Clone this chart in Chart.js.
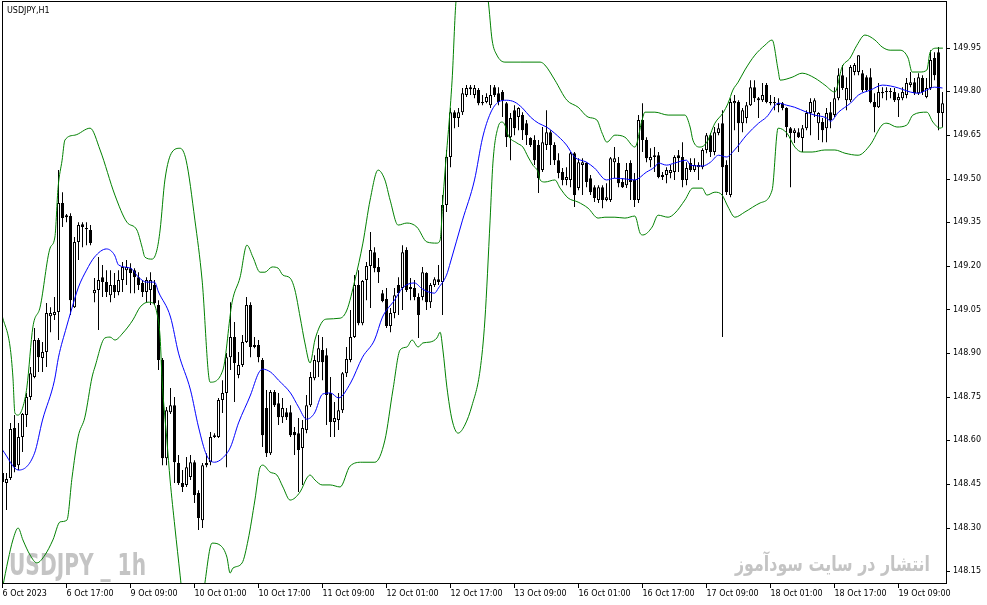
<!DOCTYPE html>
<html><head><meta charset="utf-8">
<script src="https://cdn.jsdelivr.net/npm/chart.js@4/dist/chart.umd.min.js"></script>
<style>html,body{margin:0;padding:0;background:#fff;overflow:hidden}canvas{display:block}</style>
</head><body>
<canvas id="c" width="987" height="605"></canvas>
<script>
const symbolTitle = 'USDJPY,H1';
const watermarkLeft = 'USDJPY _ 1h';
const watermarkRight = 'انتشار در سایت سودآموز';
const timeLabels = ['6 Oct 2023','6 Oct 17:00','9 Oct 09:00','10 Oct 01:00','10 Oct 17:00','11 Oct 09:00','12 Oct 01:00','12 Oct 17:00','13 Oct 09:00','16 Oct 01:00','16 Oct 17:00','17 Oct 09:00','18 Oct 01:00','18 Oct 17:00','19 Oct 09:00'];
const priceTicks = [148.15,148.30,148.45,148.60,148.75,148.90,149.05,149.20,149.35,149.50,149.65,149.80,149.95];

const openP = [148.488,148.454,148.471,148.643,148.515,148.612,148.687,148.749,148.818,148.945,148.883,148.904,149.027,149.031,149.041,149.416,149.374,149.371,149.058,149.282,
149.343,149.330,149.323,149.106,149.117,149.161,149.144,149.099,149.134,149.110,149.151,149.185,149.192,149.185,149.161,149.141,149.110,149.117,149.134,149.065,
148.876,148.539,148.697,148.721,148.522,148.454,148.447,148.474,148.525,148.419,148.326,148.522,148.525,148.612,148.612,148.739,148.763,148.886,148.955,148.825,
148.859,148.938,149.065,148.928,148.928,148.876,148.711,148.556,148.766,148.728,148.680,148.697,148.697,148.629,148.625,148.574,148.636,148.721,148.814,148.869,
148.911,148.893,148.763,148.663,148.670,148.704,148.831,148.876,148.955,149.134,149.003,149.151,149.199,149.247,149.196,149.106,149.086,148.993,149.038,149.134,
149.124,149.254,149.127,149.124,149.093,149.093,149.175,149.075,149.134,149.154,149.144,149.409,149.574,149.728,149.708,149.728,149.787,149.814,149.787,149.804,
149.763,149.763,149.752,149.814,149.793,149.797,149.759,149.642,149.735,149.711,149.718,149.690,149.639,149.632,149.615,149.529,149.615,149.659,149.615,149.563,
149.522,149.495,149.495,149.587,149.467,149.546,149.553,149.501,149.470,149.426,149.470,149.426,149.426,149.556,149.553,149.488,149.477,149.553,149.495,149.426,
149.701,149.632,149.563,149.574,149.580,149.512,149.512,149.519,149.522,149.580,149.574,149.495,149.553,149.529,149.539,149.539,149.598,149.649,149.591,149.656,
149.690,149.546,149.443,149.759,149.763,149.690,149.708,149.752,149.814,149.776,149.769,149.821,149.759,149.759,149.759,149.759,149.742,149.673,149.656,149.659,
149.639,149.673,149.725,149.728,149.690,149.694,149.673,149.728,149.718,149.776,149.855,149.769,149.769,149.866,149.866,149.862,149.848,149.848,149.763,149.745,
149.793,149.797,149.797,149.797,149.769,149.776,149.787,149.821,149.831,149.793,149.845,149.780,149.811,149.914,149.934,149.725];

const highP = [148.491,148.488,148.660,148.687,148.660,148.694,148.763,148.852,148.986,148.952,148.938,149.072,149.058,149.093,149.529,149.453,149.378,149.381,149.299,149.350,
149.350,149.350,149.340,149.158,149.230,149.203,149.185,149.185,149.175,149.185,149.213,149.220,149.209,149.192,149.178,149.151,149.161,149.178,149.151,149.082,
148.883,148.715,148.780,148.749,148.550,148.498,148.543,148.550,148.532,148.429,148.522,148.556,148.629,148.625,148.746,148.807,148.900,149.075,149.007,148.904,
148.962,149.093,149.075,148.955,148.945,148.883,148.773,148.773,148.773,148.763,148.746,148.711,148.721,148.646,148.677,148.670,148.756,148.835,148.893,148.962,
148.955,148.917,148.818,148.732,148.763,148.835,148.921,149.048,149.168,149.185,149.151,149.213,149.316,149.264,149.227,149.117,149.124,149.055,149.124,149.161,
149.271,149.264,149.158,149.151,149.106,149.196,149.178,149.141,149.161,149.203,149.443,149.598,149.742,149.735,149.742,149.811,149.821,149.821,149.821,149.811,
149.787,149.793,149.821,149.821,149.814,149.804,149.763,149.725,149.752,149.745,149.728,149.701,149.642,149.649,149.632,149.677,149.735,149.666,149.625,149.587,
149.536,149.539,149.591,149.591,149.570,149.570,149.556,149.512,149.477,149.477,149.477,149.484,149.574,149.608,149.574,149.501,149.553,149.563,149.519,149.718,
149.759,149.642,149.604,149.608,149.591,149.522,149.539,149.546,149.580,149.598,149.625,149.556,149.570,149.570,149.556,149.604,149.656,149.656,149.677,149.690,
149.735,149.563,149.776,149.787,149.769,149.742,149.763,149.838,149.838,149.780,149.828,149.828,149.787,149.780,149.776,149.763,149.745,149.677,149.673,149.673,
149.684,149.735,149.776,149.776,149.728,149.708,149.742,149.763,149.814,149.879,149.890,149.848,149.890,149.897,149.924,149.873,149.855,149.879,149.793,149.828,
149.814,149.814,149.811,149.811,149.793,149.814,149.845,149.866,149.845,149.862,149.855,149.845,149.941,149.934,149.952,149.797];

const lowP = [148.429,148.361,148.464,148.491,148.498,148.560,148.646,148.739,148.814,148.835,148.835,148.852,148.972,149.014,148.945,149.333,149.350,149.031,149.055,149.220,
149.264,149.271,149.271,149.075,148.979,149.093,149.093,149.075,149.089,149.099,149.110,149.134,149.106,149.106,149.117,149.093,149.075,149.065,149.065,148.842,
148.515,148.515,148.691,148.454,148.447,148.423,148.440,148.464,148.385,148.292,148.299,148.508,148.515,148.608,148.608,148.694,148.508,148.842,148.732,148.814,
148.852,148.935,148.886,148.917,148.869,148.577,148.543,148.550,148.715,148.653,148.660,148.670,148.612,148.550,148.423,148.447,148.625,148.715,148.807,148.818,
148.807,148.653,148.612,148.612,148.636,148.694,148.818,148.869,148.952,148.996,148.996,149.082,149.055,149.178,149.141,149.075,148.986,148.972,149.020,149.031,
149.048,149.110,149.082,149.082,148.952,149.082,149.048,149.055,149.127,149.134,149.031,149.385,149.539,149.673,149.677,149.718,149.780,149.787,149.776,149.752,
149.752,149.759,149.742,149.780,149.752,149.711,149.608,149.563,149.649,149.666,149.632,149.615,149.608,149.546,149.450,149.522,149.598,149.546,149.546,149.501,
149.477,149.477,149.470,149.402,149.460,149.443,149.470,149.443,149.419,149.416,149.398,149.422,149.419,149.501,149.470,149.467,149.467,149.426,149.402,149.416,
149.591,149.556,149.539,149.522,149.501,149.495,149.484,149.501,149.495,149.522,149.470,149.477,149.522,149.522,149.495,149.532,149.587,149.574,149.580,149.649,
148.955,149.443,149.436,149.666,149.591,149.659,149.690,149.749,149.763,149.708,149.763,149.759,149.752,149.735,149.728,149.735,149.642,149.470,149.622,149.639,
149.591,149.666,149.649,149.711,149.632,149.625,149.625,149.673,149.711,149.769,149.804,149.735,149.763,149.855,149.855,149.797,149.797,149.759,149.659,149.742,
149.776,149.769,149.776,149.763,149.711,149.769,149.776,149.814,149.787,149.787,149.787,149.776,149.804,149.838,149.666,149.677];

const closeP = [148.457,148.467,148.639,148.508,148.612,148.691,148.749,148.831,148.945,148.886,148.904,149.038,149.038,149.041,149.416,149.364,149.367,149.082,149.282,149.340,
149.333,149.326,149.278,149.117,149.151,149.144,149.110,149.134,149.110,149.151,149.196,149.196,149.175,149.161,149.134,149.110,149.151,149.151,149.072,148.876,
148.539,148.704,148.721,148.525,148.454,148.440,148.508,148.525,148.412,148.333,148.515,148.515,148.612,148.618,148.739,148.763,148.886,148.955,148.866,148.859,
148.938,149.065,148.921,148.921,148.886,148.618,148.556,148.766,148.721,148.680,148.711,148.680,148.618,148.618,148.567,148.643,148.721,148.818,148.876,148.917,
148.869,148.756,148.663,148.677,148.704,148.831,148.880,148.955,149.134,149.003,149.148,149.199,149.254,149.192,149.178,149.079,148.993,149.038,149.099,149.106,
149.247,149.117,149.120,149.093,149.031,149.178,149.075,149.134,149.154,149.144,149.409,149.574,149.728,149.708,149.728,149.793,149.811,149.807,149.811,149.759,
149.759,149.780,149.787,149.787,149.763,149.769,149.642,149.708,149.673,149.742,149.666,149.649,149.615,149.563,149.501,149.625,149.659,149.615,149.563,149.519,
149.495,149.505,149.587,149.443,149.556,149.556,149.488,149.453,149.433,149.470,149.426,149.436,149.570,149.570,149.484,149.470,149.529,149.488,149.426,149.701,
149.632,149.570,149.574,149.580,149.505,149.505,149.529,149.529,149.574,149.570,149.495,149.536,149.529,149.546,149.546,149.598,149.649,149.591,149.659,149.673,
149.539,149.453,149.763,149.766,149.690,149.735,149.752,149.814,149.776,149.769,149.787,149.763,149.763,149.763,149.752,149.742,149.677,149.656,149.666,149.642,
149.673,149.725,149.763,149.769,149.725,149.666,149.725,149.701,149.776,149.855,149.811,149.811,149.883,149.890,149.924,149.804,149.804,149.763,149.745,149.797,
149.797,149.797,149.797,149.769,149.780,149.797,149.828,149.831,149.793,149.848,149.797,149.811,149.907,149.855,149.725,149.759];

const maIdx = [0,4,8,10,13,14,16,17,19,21,23,26,28,29,32,34,36,38,39,42,44,47,49,51,53,55,57,59,62,64,65,67,69,72,74,76,78,80,82,84,87,90,93,95,98,100,103,105,108,109,111,112,115,118,120,122,124,126,128,130,132,134,136,138,141,143,146,148,151,153,156,158,161,163,164,166,168,171,172,175,177,179,181,183,186,189,191,194,196,198,201,203,206,207,209,212,214,217,220,222,224,227,229,231,233,235];
const maVal = [148.567,148.498,148.556,148.670,148.807,148.886,148.990,149.038,149.127,149.185,149.230,149.258,149.237,149.203,149.192,149.161,149.144,149.144,149.110,149.024,148.900,148.773,148.646,148.550,148.525,148.539,148.577,148.660,148.756,148.831,148.845,148.835,148.807,148.763,148.715,148.673,148.694,148.759,148.763,148.746,148.797,148.886,148.945,149.024,149.082,149.124,149.141,149.120,149.106,149.124,149.168,149.213,149.357,149.495,149.639,149.725,149.763,149.769,149.763,149.742,149.711,149.690,149.677,149.656,149.615,149.574,149.556,149.536,149.495,149.501,149.498,149.495,149.522,149.539,149.553,149.546,149.553,149.563,149.546,149.543,149.556,149.580,149.574,149.598,149.649,149.690,149.711,149.759,149.752,149.745,149.728,149.718,149.708,149.697,149.728,149.759,149.787,149.804,149.821,149.818,149.811,149.797,149.793,149.804,149.814,149.811];

const upIdx = [0,1.9,2.6,3.1,3.9,5.1,6.1,7.6,9.4,11.9,13.1,13.9,14.9,15.6,18.1,21.9,24.4,28.1,31.1,33.6,34.9,35.6,37.4,38.6,39.4,40.6,42.4,44.4,45.9,48.1,49.9,51.9,55.1,57.4,59.4,61.1,62.6,64.4,65.6,67.4,68.9,70.1,71.9,73.1,74.4,75.6,76.9,78.1,79.9,81.1,84.4,86.1,88.1,90.1,91.9,93.9,95.6,96.9,98.9,101.1,103.6,106.1,108.6,109.4,110.1,110.6,112.4,113.4,115.9,118.9,121.4,122.4,123.6,125.6,129.4,134.4,135.6,138.1,141.1,143.9,146.4,148.6,149.9,151.1,153.1,155.6,158.1,159.9,160.6,163.1,166.4,170.6,171.9,172.6,174.4,176.1,178.1,180.1,181.4,182.6,183.9,185.6,188.1,190.6,192.4,193.9,194.4,197.4,199.9,203.1,205.6,208.1,209.9,211.9,213.6,215.6,218.1,219.9,221.9,224.4,226.4,227.4,229.4,231.1,231.9,233.6,235.1];
const upVal = [149.024,148.921,148.818,148.694,148.687,148.715,148.783,148.990,149.058,149.261,149.299,149.470,149.563,149.632,149.649,149.673,149.598,149.443,149.350,149.323,149.264,149.230,149.223,149.254,149.323,149.495,149.591,149.604,149.563,149.357,149.151,148.800,148.842,149.075,149.161,149.271,149.230,149.178,149.178,149.196,149.192,149.168,149.158,149.117,149.024,148.935,148.866,148.945,149.007,149.017,149.020,149.048,149.151,149.278,149.426,149.529,149.495,149.426,149.340,149.347,149.333,149.282,149.278,149.288,149.426,149.519,149.838,150.113,150.233,150.233,150.113,149.976,149.924,149.900,149.900,149.900,149.890,149.838,149.769,149.745,149.711,149.701,149.656,149.625,149.649,149.642,149.608,149.701,149.728,149.728,149.718,149.718,149.677,149.632,149.608,149.625,149.690,149.725,149.759,149.804,149.831,149.873,149.924,149.958,149.976,149.873,149.838,149.848,149.862,149.845,149.821,149.797,149.883,149.914,149.958,149.993,149.976,149.952,149.941,149.941,149.914,149.866,149.866,149.873,149.934,149.948,149.948];

const loIdx = [0,1.4,2.6,3.9,5.1,6.9,8.6,10.6,12.6,14.4,16.1,17.4,18.9,20.6,22.4,23.1,25.6,26.9,28.1,30.1,32.6,34.4,36.4,37.6,38.6,39.4,39.9,41.1,41.9,43.1,44.4,45.6,47.4,48.9,50.6,52.4,54.4,56.1,56.9,57.6,59.9,61.4,63.1,64.4,65.1,66.9,68.6,70.1,71.9,74.4,76.1,76.9,78.1,79.9,81.9,84.4,86.9,89.9,93.1,95.6,97.6,99.4,101.1,102.4,103.9,105.1,106.9,108.6,109.4,110.1,111.1,112.4,113.9,115.6,117.4,119.4,120.6,121.9,122.6,123.9,124.9,125.6,126.4,128.6,130.1,131.4,132.6,133.9,134.4,135.6,138.1,139.4,141.4,143.9,146.4,148.9,150.6,153.1,155.6,158.1,159.4,160.1,162.4,163.9,166.4,168.1,170.6,172.6,174.9,176.1,178.1,179.9,181.4,183.1,185.6,189.4,192.4,193.9,196.1,198.1,199.9,202.4,205.6,208.1,210.6,213.9,216.9,219.9,221.1,223.6,226.1,227.6,231.1,232.6,234.4,235.1];
const loVal = [148.093,148.189,148.258,148.299,148.258,148.206,148.179,148.206,148.258,148.320,148.326,148.474,148.612,148.680,148.818,148.852,148.952,148.955,148.945,148.969,149.014,149.058,149.075,149.072,149.038,148.955,148.807,148.601,148.464,148.302,148.137,147.983,147.846,147.914,148.110,148.247,148.240,148.199,148.144,148.161,148.179,148.258,148.395,148.508,148.515,148.491,148.481,148.440,148.395,148.423,148.471,148.481,148.464,148.447,148.447,148.440,148.512,148.525,148.525,148.601,148.773,148.911,148.921,148.945,148.921,148.935,148.938,148.952,148.972,148.911,148.783,148.670,148.625,148.653,148.721,148.842,149.014,149.357,149.553,149.677,149.694,149.684,149.649,149.622,149.608,149.574,149.546,149.522,149.495,149.488,149.495,149.467,149.433,149.419,149.398,149.364,149.367,149.367,149.364,149.371,149.312,149.306,149.333,149.374,149.367,149.381,149.426,149.467,149.467,149.443,149.453,149.443,149.402,149.367,149.385,149.416,149.460,149.673,149.656,149.608,149.591,149.591,149.598,149.598,149.587,149.580,149.615,149.684,149.690,149.677,149.684,149.718,149.728,149.694,149.673,149.677];

const wickData = openP.map((o, i) => ({x: i, y: [lowP[i], highP[i]]}));
const bodyData = openP.map((o, i) => ({x: i, y: [o, closeP[i]]}));
const bodyFill = openP.map((o, i) => closeP[i] >= o ? '#ffffff' : '#000000');
const pts = (xs, ys) => xs.map((x, k) => ({x, y: ys[k]}));

const FONT = '"DejaVu Sans", Tahoma, sans-serif';

function fitText(ctx, txt, font, x, y, w, rtl) {
  ctx.save();
  ctx.font = font;
  ctx.direction = rtl ? 'rtl' : 'ltr';
  ctx.textAlign = 'left';
  ctx.textBaseline = 'alphabetic';
  const m = ctx.measureText(txt).width;
  ctx.translate(x, y);
  ctx.scale(w / m, 1);
  ctx.fillText(txt, 0, 0);
  ctx.restore();
}

const decor = {
  id: 'decor',
  beforeDatasetsDraw(chart) {
    const ctx = chart.ctx;
    ctx.save();
    ctx.fillStyle = '#c4c4c4';
    fitText(ctx, watermarkLeft, 'bold 30px "Liberation Sans Narrow", "DejaVu Sans Condensed", "Liberation Sans", sans-serif', 9, 575, 137, false);
    fitText(ctx, watermarkRight, 'bold 21px "DejaVu Sans", sans-serif', 735, 571, 195, true);
    ctx.restore();
  },
  afterDraw(chart) {
    const ctx = chart.ctx;
    const a = chart.chartArea;
    const xs = chart.scales.x, ys = chart.scales.y;
    ctx.save();
    ctx.strokeStyle = '#000';
    ctx.lineWidth = 1;
    ctx.strokeRect(a.left + 0.5, a.top + 0.5, a.right - a.left, a.bottom - a.top);
    ctx.beginPath();
    priceTicks.forEach(v => {
      const y = Math.round(ys.getPixelForValue(v)) + 0.5;
      ctx.moveTo(a.right, y); ctx.lineTo(a.right + 4, y);
    });
    timeLabels.forEach((t, k) => {
      const x = Math.floor(xs.getPixelForValue(k * 16)) + 0.5;
      ctx.moveTo(x, a.bottom); ctx.lineTo(x, a.bottom + 5);
    });
    ctx.stroke();
    ctx.fillStyle = '#000';
    ctx.font = '8px ' + FONT;
    ctx.textBaseline = 'middle';
    ctx.textAlign = 'left';
    ctx.fillText(symbolTitle, 7, 11);
    ctx.restore();
  }
};

function noPad(s) { s.paddingTop = 0; s.paddingBottom = 0; s.paddingLeft = 0; s.paddingRight = 0; }

new Chart(document.getElementById('c'), {
  type: 'bar',
  data: {
    datasets: [
      {type: 'line', data: pts(maIdx, maVal), borderColor: '#0000ff', borderWidth: 1, pointRadius: 0, fill: false, cubicInterpolationMode: 'monotone', order: 0},
      {type: 'line', data: pts(upIdx, upVal), borderColor: '#008000', borderWidth: 1, pointRadius: 0, fill: false, cubicInterpolationMode: 'monotone', order: 0},
      {type: 'line', data: pts(loIdx, loVal), borderColor: '#008000', borderWidth: 1, pointRadius: 0, fill: false, cubicInterpolationMode: 'monotone', order: 0},
      {type: 'bar', data: bodyData, backgroundColor: bodyFill, borderColor: '#000', borderWidth: 1, borderSkipped: false, barThickness: 3, grouped: false, minBarLength: 1, inflateAmount: 0, order: 1},
      {type: 'bar', data: wickData, backgroundColor: '#000', borderWidth: 0, barThickness: 1, grouped: false, inflateAmount: 0, order: 2}
    ]
  },
  options: {
    responsive: false,
    animation: false,
    devicePixelRatio: 1,
    events: [],
    layout: {padding: {left: 2, top: 1, right: 0, bottom: 0}},
    plugins: {legend: {display: false}, tooltip: {enabled: false}},
    scales: {
      x: {
        type: 'linear', min: -0.125, max: 235.875, offset: false, bounds: 'data',
        grid: {display: false, drawTicks: false, offset: false}, border: {display: false},
        afterBuildTicks: s => { s.ticks = timeLabels.map((t, k) => ({value: k * 16})); },
        ticks: {autoSkip: false, maxRotation: 0, minRotation: 0, align: 'start', padding: 6, color: '#000',
          font: {family: FONT, size: 8},
          callback: v => timeLabels[Math.round(v / 16)] || ''},
        afterFit: s => { s.height = 22; noPad(s); }
      },
      y: {
        type: 'linear', position: 'right', min: 148.11, max: 150.11, bounds: 'data',
        grid: {display: false, drawTicks: false}, border: {display: false},
        afterBuildTicks: s => { s.ticks = priceTicks.map(v => ({value: v})); },
        ticks: {padding: 7, color: '#000', font: {family: FONT, size: 8}, callback: v => Number(v).toFixed(2)},
        afterFit: s => { s.width = 41; noPad(s); }
      }
    }
  },
  plugins: [decor]
});
</script>
</body></html>
